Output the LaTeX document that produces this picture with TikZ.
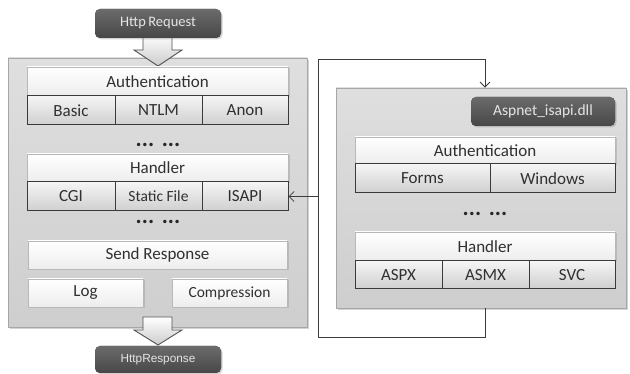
\documentclass[tikz,border=0pt]{standalone}
\usepackage{fontspec}
\setmainfont{Carlito}
\newfontfamily\arialfont{Liberation Sans}
\usetikzlibrary{shadows,arrows.meta}

\definecolor{panelfill}{HTML}{D9D9D9}
\definecolor{panelline}{HTML}{A6A6A6}
\definecolor{celltop}{HTML}{F5F5F5}
\definecolor{cellbot}{HTML}{CFCFCF}
\definecolor{cellline}{HTML}{3A3A3A}
\definecolor{txt}{HTML}{303030}
\definecolor{darktop}{HTML}{6B6B6B}
\definecolor{darkbot}{HTML}{474747}
\definecolor{wire}{HTML}{3C3C3C}

\tikzset{
  x=1pt, y=-1pt,
  panel/.style={draw=panelline, line width=0.8pt, top color=panelfill!85!white,
    bottom color=panelfill!95!black, inner sep=0pt,
    drop shadow={shadow xshift=2pt, shadow yshift=-2pt, opacity=0.35}},
  titlebox/.style={draw=panelline!80!white, line width=0.6pt, top color=white,
    bottom color=white!93!black, text=txt, inner sep=0pt,
    font=\fontsize{17}{20}\selectfont,
    drop shadow={shadow xshift=1.5pt, shadow yshift=-1.5pt, opacity=0.3}},
  cellbox/.style={draw=cellline, line width=1pt, top color=celltop,
    bottom color=cellbot, text=txt, inner sep=0pt,
    font=\fontsize{17}{20}\selectfont},
  darkbox/.style={rounded corners=5pt, fill=darkbot, top color=darktop,
    bottom color=darkbot, draw=none, text=white!90!black, inner sep=0pt,
    drop shadow={shadow xshift=1.5pt, shadow yshift=-1.5pt, opacity=0.35}},
  dots/.style={text=txt!80!black, font=\bfseries\fontsize{23}{26}\selectfont,
    inner sep=0pt, text height=3.5pt, text depth=0pt},
  bigarrow/.style={draw=wire!90!white, line width=0.9pt, top color=white,
    bottom color=white!80!black},
  conn/.style={draw=wire, line width=0.8pt},
  tip/.style={-{Straight Barb[length=5pt,width=10pt,line width=0.8pt]}},
}

\begin{document}
\begin{tikzpicture}
\useasboundingbox (0,0) rectangle (630,374);

% ---------- IIS pipeline (left panel) ----------
\node[panel, minimum width=299, minimum height=269] (lpanel) at (157.5,192.5) {};

% incoming arrow and request label
\path[bigarrow] (143,34) -- (172,34) -- (172,50) -- (182,50) -- (158,66)
  -- (134,50) -- (143,50) -- cycle;
\node[darkbox, minimum width=126, minimum height=29,
  font=\fontsize{14.5}{17}\selectfont] (req) at (158,23.5) {Http\,Request};

\node[titlebox, minimum width=261, minimum height=29] (auth) at (157.5,81.5) {Authentication};
\node[cellbox, minimum width=88, minimum height=29] (basic) at (71,110.5) {Basic};
\node[cellbox, minimum width=87, minimum height=29] (ntlm) at (158.5,110.5) {NTLM};
\node[cellbox, minimum width=86, minimum height=29] (anon) at (245,110.5) {Anon};

\node[dots] (dotsA) at (158,145) {...\,\,...};

\node[titlebox, minimum width=261, minimum height=28] (hdl) at (157.5,168) {Handler};
\node[cellbox, minimum width=88, minimum height=29] (cgi) at (71,196.5) {CGI};
\node[cellbox, minimum width=87, minimum height=29,
  font=\fontsize{15.5}{18}\selectfont] (static) at (158.5,196.5) {Static File};
\node[cellbox, minimum width=86, minimum height=29] (isapi) at (245,196.5) {ISAPI};

\node[dots] (dotsB) at (158,222) {...\,\,...};

\node[titlebox, minimum width=259, minimum height=28] (send) at (157.5,255) {Send Response};
\node[titlebox, minimum width=115, minimum height=28] (log) at (85.5,293) {Log};
\node[titlebox, minimum width=115, minimum height=28,
  font=\fontsize{15.5}{18}\selectfont] (comp) at (229.5,293) {Compression};

% outgoing arrow and response label
\path[bigarrow] (143,317) -- (172,317) -- (172,330) -- (182,330) -- (158,345)
  -- (134,330) -- (143,330) -- cycle;
\node[darkbox, minimum width=126, minimum height=27,
  font=\arialfont\fontsize{11.8}{14}\selectfont] (resp) at (158,359.5) {HttpResponse};

% ---------- ASP.NET ISAPI extension (right panel) ----------
\node[panel, minimum width=290, minimum height=220] (rpanel) at (481,198) {};
\node[darkbox, minimum width=144, minimum height=29,
  font=\fontsize{15.5}{18}\selectfont] (dll) at (543,111.5) {Aspnet\_isapi.dll};

\node[titlebox, minimum width=260, minimum height=27] (auth2) at (485,150.5) {Authentication};
\node[cellbox, minimum width=135, minimum height=29] (forms) at (422.5,178.5) {Forms};
\node[cellbox, minimum width=125, minimum height=29] (win) at (552.5,178.5) {Windows};

\node[dots] (dotsC) at (485,214) {...\,\,...};

\node[titlebox, minimum width=260, minimum height=29] (hdl2) at (485,246.5) {Handler};
\node[cellbox, minimum width=87, minimum height=28] (aspx) at (398.5,275) {ASPX};
\node[cellbox, minimum width=87, minimum height=28] (asmx) at (485.5,275) {ASMX};
\node[cellbox, minimum width=86, minimum height=28] (svc) at (572,275) {SVC};

% ---------- loop between ISAPI and the extension ----------
\coordinate (jn) at (318,196.5);
\coordinate (loopBot) at (318,337);
\coordinate (loopTop) at (318,59);
\draw[conn, tip] (rpanel.south -| hdl2.center) |- (loopBot) -- (loopTop)
  -| (rpanel.north -| hdl2.center);
\draw[conn, tip] (jn) -- (isapi.east);
\end{tikzpicture}
\end{document}
